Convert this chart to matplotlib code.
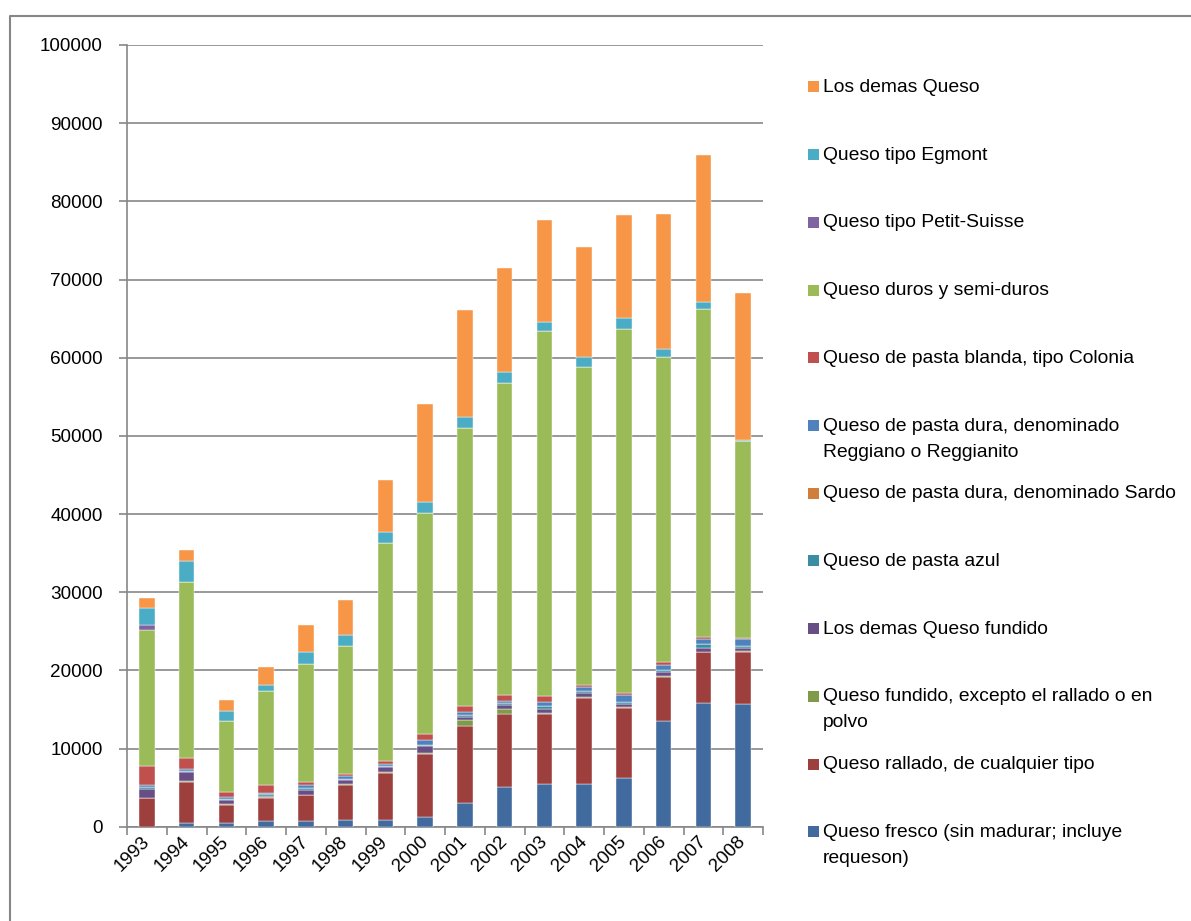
import matplotlib.pyplot as plt
from matplotlib.patches import Rectangle
import numpy as np

plt.rcParams['font.family'] = ['Liberation Sans', 'DejaVu Sans']

# ---- data (toneladas por año) ----
years = ['1993', '1994', '1995', '1996', '1997', '1998', '1999', '2000',
         '2001', '2002', '2003', '2004', '2005', '2006', '2007', '2008']

fresco = [0, 470, 430, 680, 750, 850, 850, 1280,
          3030, 5080, 5460, 5460, 6230, 13480, 15840, 15710]
rallado = [3670, 5250, 2390, 2940, 3250, 4440, 5980, 7980,
           9810, 9300, 8970, 11010, 8960, 5640, 6480, 6610]
fundido_excepto = [50, 130, 130, 130, 80, 110, 130, 220,
                   820, 690, 70, 80, 90, 120, 80, 130]
demas_fundido = [1150, 1100, 420, 180, 640, 580, 640, 800,
                 380, 460, 600, 600, 430, 570, 480, 380]
pasta_azul = [170, 220, 210, 220, 170, 70, 170, 170,
              260, 270, 300, 250, 260, 210, 550, 260]
sardo = [0, 0, 0, 0, 0, 0, 0, 0,
         0, 0, 0, 0, 0, 0, 0, 0]
reggiano = [250, 220, 170, 200, 430, 390, 310, 690,
            330, 290, 600, 430, 840, 700, 640, 940]
blanda = [2430, 1360, 640, 940, 400, 350, 340, 730,
          860, 770, 690, 350, 310, 300, 170, 70]
duros = [17420, 22580, 9140, 12080, 15110, 16350, 27880, 28260,
         35460, 39900, 46720, 40630, 46590, 39110, 42030, 25300]
petit_suisse = [660, 0, 0, 0, 0, 0, 0, 0,
                0, 0, 0, 0, 0, 0, 0, 0]
egmont = [2200, 2640, 1240, 810, 1490, 1440, 1400, 1450,
          1460, 1410, 1150, 1230, 1320, 980, 890, 60]
demas_queso = [1300, 1410, 1450, 2270, 3450, 4480, 6700, 12500,
               13730, 13330, 13040, 14160, 13220, 17270, 18770, 18830]

series = [
    ('Queso fresco (sin madurar; incluye\nrequeson)', fresco, '#416A9F'),
    ('Queso rallado, de cualquier tipo', rallado, '#9D3F3D'),
    ('Queso fundido, excepto el rallado o en\npolvo', fundido_excepto, '#7F9A48'),
    ('Los demas Queso fundido', demas_fundido, '#674F86'),
    ('Queso de pasta azul', pasta_azul, '#3A8DA2'),
    ('Queso de pasta dura, denominado Sardo', sardo, '#D17D3B'),
    ('Queso de pasta dura, denominado\nReggiano o Reggianito', reggiano, '#4F81BD'),
    ('Queso de pasta blanda, tipo Colonia', blanda, '#C0504D'),
    ('Queso duros y semi-duros', duros, '#9BBB59'),
    ('Queso tipo Petit-Suisse', petit_suisse, '#8064A2'),
    ('Queso tipo Egmont', egmont, '#4BACC6'),
    ('Los demas Queso', demas_queso, '#F79646'),
]

W, H = 1191, 921
fig = plt.figure(figsize=(W / 100, H / 100), dpi=100)
fig.patch.set_facecolor('white')

# main chart area
ax = fig.add_axes([127 / W, (H - 826.7) / H, 636 / W, 781.7 / H])
x = np.arange(len(years))
bottom = np.zeros(len(years))
for label, vals, color in series:
    vals = np.array(vals, dtype=float)
    ax.bar(x, vals, 0.385, bottom=bottom, color=color,
           edgecolor='white', linewidth=0.3, zorder=3)
    bottom += vals

ax.set_xlim(-0.5, len(years) - 0.5)
ax.set_ylim(0, 100000)
ax.set_yticks(np.arange(0, 100001, 10000))
ax.yaxis.grid(True, color='#878787', linewidth=1.2, zorder=0)
ax.set_axisbelow(True)

for side in ['top', 'right']:
    ax.spines[side].set_visible(False)
for side in ['left', 'bottom']:
    ax.spines[side].set_color('#878787')
    ax.spines[side].set_linewidth(1.2)

ax.tick_params(axis='y', length=5.5, width=1.2, color='#878787',
               labelsize=13.6, pad=12)
ax.set_xticks(x)
ax.set_xticklabels(years, rotation=45, ha='right', va='center',
                   rotation_mode='anchor', fontsize=13.6)
ax.tick_params(axis='x', which='major', length=0, pad=9)
ax.set_xticks(np.arange(-0.5, len(years)), minor=True)
ax.tick_params(axis='x', which='minor', length=6, width=1.2, color='#878787')

# overlay in pixel coordinates: frame and legend
ov = fig.add_axes([0, 0, 1, 1])
ov.set_xlim(0, W)
ov.set_ylim(H, 0)
ov.axis('off')
ov.patch.set_alpha(0)
ov.plot([10, 10, W], [H, 16, 16], color='#868686', linewidth=1.5)

slot0, step = 87, 67.7
for i, (label, vals, color) in enumerate(reversed(series)):
    yc = slot0 + i * step
    ov.add_patch(Rectangle((808, yc - 5.5), 11, 11, facecolor=color,
                           edgecolor='none'))
    ov.text(823, yc - 8, label, fontsize=13.9, ha='left', va='top',
            color='black', linespacing=1.7)

fig.savefig('out.png', dpi=100, facecolor='white')
